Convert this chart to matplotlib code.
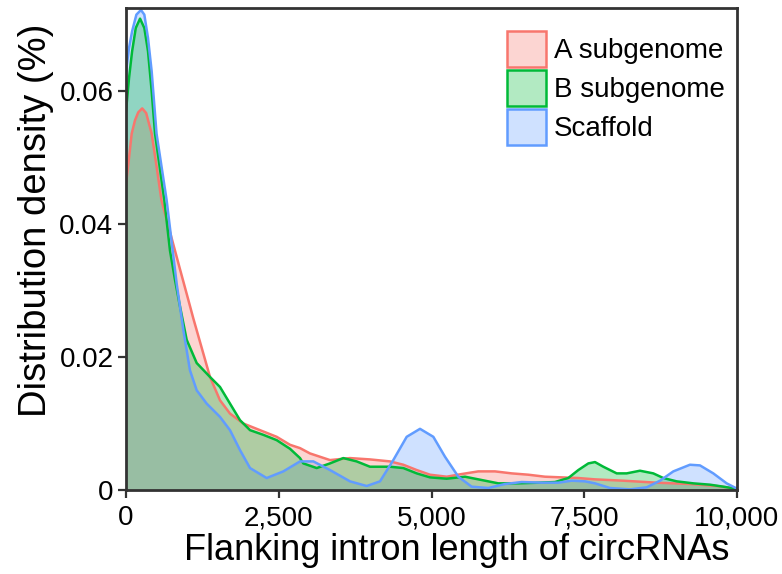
import matplotlib
matplotlib.use("Agg")
import matplotlib.pyplot as plt
import numpy as np
from matplotlib.ticker import FuncFormatter

plt.rcParams["font.family"] = ["Liberation Sans", "DejaVu Sans"]

# values (x = intron length, y = density)
a_len = [0, 50, 93, 147, 200, 265, 330, 420, 502, 580, 720, 884, 1020, 1102, 1375, 1538,
         1702, 1920, 2193, 2466, 2684, 2848, 3011, 3339, 3666, 3993, 4321, 4539, 4758,
         4975, 5249, 5494, 5766, 6039, 6312, 6585, 6857, 7130, 7403, 7676, 8140, 8685,
         9230, 9667, 10000]
a_dens = [0.046, 0.050, 0.0536, 0.0556, 0.0568, 0.0574, 0.0567, 0.0536, 0.0486, 0.0436,
          0.0388, 0.0332, 0.0286, 0.0258, 0.0170, 0.0135, 0.0115, 0.0100, 0.0090, 0.0080,
          0.0068, 0.0063, 0.0055, 0.0045, 0.0048, 0.0046, 0.0043, 0.0038, 0.0030, 0.0023,
          0.0020, 0.0024, 0.0028, 0.0028, 0.0025, 0.0023, 0.0020, 0.0019, 0.0018, 0.0016,
          0.0014, 0.0011, 0.0009, 0.0006, 0.0002]

b_len = [0, 50, 100, 160, 230, 300, 360, 420, 475, 627, 720, 802, 884, 993, 1157, 1375,
         1538, 1702, 1866, 2030, 2247, 2466, 2684, 2848, 2902, 3121, 3339, 3557, 3775,
         3993, 4321, 4539, 4758, 4975, 5249, 5548, 5821, 6094, 6421, 6748, 7021, 7239,
         7403, 7567, 7676, 7812, 8031, 8194, 8412, 8630, 8794, 9013, 9285, 9558, 9776,
         10000]
b_dens = [0.057, 0.062, 0.066, 0.0695, 0.0709, 0.0695, 0.066, 0.060, 0.0536, 0.0436,
          0.036, 0.0316, 0.0276, 0.0226, 0.0191, 0.0170, 0.0155, 0.0130, 0.0105, 0.0090,
          0.0083, 0.0075, 0.0062, 0.0048, 0.0040, 0.0033, 0.0040, 0.0048, 0.0043, 0.0035,
          0.0035, 0.0033, 0.0025, 0.0019, 0.0017, 0.0020, 0.0015, 0.0010, 0.0010, 0.0011,
          0.0012, 0.0018, 0.0030, 0.0040, 0.0042, 0.0035, 0.0025, 0.0025, 0.0029, 0.0025,
          0.0018, 0.0013, 0.0010, 0.0008, 0.0005, 0.00015]

s_len = [0, 50, 100, 170, 245, 300, 360, 420, 500, 665, 830, 938, 1047, 1157, 1320, 1538,
         1702, 1866, 2030, 2302, 2575, 2848, 3066, 3339, 3666, 3939, 4157, 4375, 4594,
         4812, 5030, 5221, 5439, 5657, 5930, 6203, 6476, 6803, 7076, 7294, 7512, 7676,
         7921, 8249, 8522, 8740, 8958, 9230, 9394, 9612, 9831, 10000]
s_dens = [0.063, 0.0665, 0.069, 0.0715, 0.0722, 0.0715, 0.068, 0.063, 0.0536, 0.0436,
          0.031, 0.0241, 0.0180, 0.0150, 0.0130, 0.0110, 0.0090, 0.0060, 0.0033, 0.0018,
          0.0028, 0.0043, 0.0043, 0.0030, 0.0013, 0.0006, 0.0013, 0.0045, 0.0080, 0.0092,
          0.0080, 0.0050, 0.0020, 0.0005, 0.0003, 0.0009, 0.0012, 0.0011, 0.0011, 0.0014,
          0.0013, 0.0010, 0.0003, 0.0001, 0.0004, 0.0014, 0.0028, 0.0038, 0.0037, 0.0025,
          0.0010, 0.0002]

labels = ["A subgenome", "B subgenome", "Scaffold"]
colors = ["#F8766D", "#00BA38", "#619CFF"]

fig = plt.figure(figsize=(7.82, 5.74), dpi=100)
ax = fig.add_axes([126 / 782, 1 - 490 / 574, (737 - 126) / 782, (490 - 8) / 574])

# fills: scaffold first, then A (with its line), then B
ax.fill_between(s_len, s_dens, color=colors[2], alpha=0.3, lw=0)
ax.fill_between(a_len, a_dens, color=colors[0], alpha=0.3, lw=0)
ax.plot(a_len, a_dens, color=colors[0], lw=1.8)
ax.fill_between(b_len, b_dens, color=colors[1], alpha=0.3, lw=0)
ax.plot(b_len, b_dens, color=colors[1], lw=1.8)
ax.plot(s_len, s_dens, color=colors[2], lw=1.8)

ax.set_xlim(0, 10000)
ax.set_ylim(0, 0.0725)
ax.set_xticks([0, 2500, 5000, 7500, 10000])
ax.set_yticks([0, 0.02, 0.04, 0.06])
ax.xaxis.set_major_formatter(FuncFormatter(lambda v, p: f"{int(v):,}"))
ax.yaxis.set_major_formatter(FuncFormatter(lambda v, p: "0" if v == 0 else f"{v:.2f}"))
ax.tick_params(axis="both", labelsize=20, length=6, width=1.6, color="#333333",
               labelcolor="black")
ax.tick_params(axis="x", pad=5)
ax.tick_params(axis="y", pad=3)

for side in ax.spines.values():
    side.set_color("#333333")
    side.set_linewidth(2)

ax.set_xlabel("Flanking intron length of circRNAs", fontsize=26)
ax.set_ylabel("Distribution density (%)", fontsize=27.5)
# label positions taken from the reference layout
ax.xaxis.set_label_coords((457 - 126) / 611, -(560 - 490) / 482, transform=ax.transAxes)
ax.xaxis.label.set_va("baseline")
ax.yaxis.set_label_coords(-(126 - 18) / 611, (490 - 220) / 482, transform=ax.transAxes)
ax.yaxis.label.set_va("top")

# legend keys drawn like ggplot fill keys
handles = []
for c in colors:
    handles.append(plt.Rectangle((0, 0), 1, 1, facecolor=matplotlib.colors.to_rgba(c, 0.3),
                                 edgecolor=c, linewidth=1.8))
leg = ax.legend(handles, labels, loc="upper left", bbox_to_anchor=(507 / 782, 1 - 31 / 574),
                bbox_transform=fig.transFigure, frameon=False, fontsize=20,
                handlelength=1.4, handleheight=1.62, labelspacing=0.1,
                handletextpad=0.3, borderpad=0, borderaxespad=0)

fig.savefig("out.png", dpi=100)
